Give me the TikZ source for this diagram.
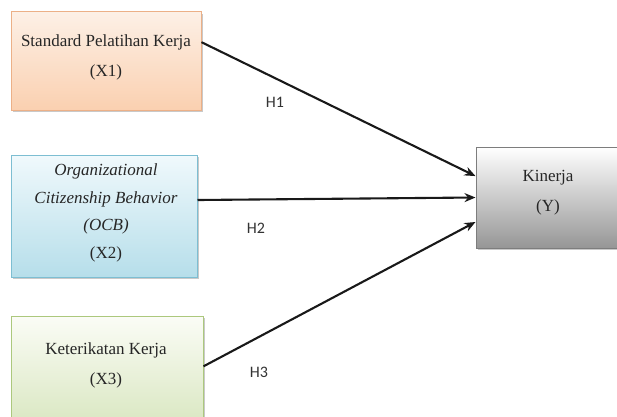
\documentclass[tikz,border=0pt]{standalone}
\usepackage{fontspec}
\setmainfont{Liberation Serif}
\newfontfamily\hfont{Carlito}
\usetikzlibrary{calc,arrows.meta,shadows}
\definecolor{orTop}{RGB}{253,240,230}
\definecolor{orBot}{RGB}{250,208,176}
\definecolor{orLine}{RGB}{236,176,135}
\definecolor{blTop}{RGB}{240,249,252}
\definecolor{blBot}{RGB}{182,222,234}
\definecolor{blLine}{RGB}{125,190,210}
\definecolor{grTop}{RGB}{251,252,246}
\definecolor{grBot}{RGB}{214,229,188}
\definecolor{grLine}{RGB}{172,200,125}
\definecolor{gyTop}{RGB}{255,255,255}
\definecolor{gyBot}{RGB}{150,150,150}
\definecolor{gyLine}{RGB}{125,125,125}
\tikzset{
  boxbase/.style={rectangle, line width=1pt, inner sep=0pt,
    drop shadow={shadow xshift=1.5pt, shadow yshift=-2pt, opacity=0.35, fill=black!60}},
  boxtxt/.style={font=\fontsize{17}{30}\selectfont, align=center, inner sep=0pt, text=black!85},
  hlab/.style={font=\hfont\fontsize{16}{18}\selectfont, text=black!80, inner sep=0pt},
  conn/.style={line width=2.1pt, draw=black!90, -{Stealth[length=11pt,width=9pt]}},
}
\begin{document}
\begin{tikzpicture}[x=1pt,y=1pt]
\useasboundingbox (0,0) rectangle (617,416);
\fill[white] (0,0) rectangle (617,416);
% boxes (y = 416 - pixel row)
\node[boxbase, draw=orLine, top color=orTop, bottom color=orBot,
      minimum width=190pt, minimum height=98pt] (b1) at (106,355) {};
\node[boxbase, draw=blLine, top color=blTop, bottom color=blBot,
      minimum width=186pt, minimum height=122pt] (b2) at (104,200) {};
\node[boxbase, draw=grLine, top color=grTop, bottom color=grBot,
      minimum width=192pt, minimum height=120pt] (b3) at (107,40) {};
\node[boxbase, draw=gyLine, top color=gyTop, bottom color=gyBot,
      minimum width=150pt, minimum height=101pt] (by) at (551,218.5) {};
% texts
\node[boxtxt] (t1) at (106,359) {Standard Pelatihan Kerja\\(X1)};
\node[boxtxt, font=\fontsize{17}{27.5}\selectfont] (t2) at (106,203)
  {\textit{Organizational}\\\textit{Citizenship Behavior}\\\textit{(OCB)}\\(X2)};
\node[boxtxt] (t3) at (106,51) {Keterikatan Kerja\\(X3)};
\node[boxtxt] (ty) at (548,223) {Kinerja\\(Y)};
% connectors
\draw[conn] ($(b1.north east)!0.31!(b1.south east)$) -- ($(by.north west)!0.29!(by.south west)$);
\draw[conn] ($(b2.north east)!0.37!(b2.south east)$) -- ($(by.north west)!0.5!(by.south west)$);
\draw[conn] ($(b3.north east)!0.42!(b3.south east)$) -- ($(by.north west)!0.74!(by.south west)$);
% labels
\node[hlab] (h1) at (275,314) {H1};
\node[hlab] (h2) at (256,188) {H2};
\node[hlab] (h3) at (259,44) {H3};
\end{tikzpicture}
\end{document}
